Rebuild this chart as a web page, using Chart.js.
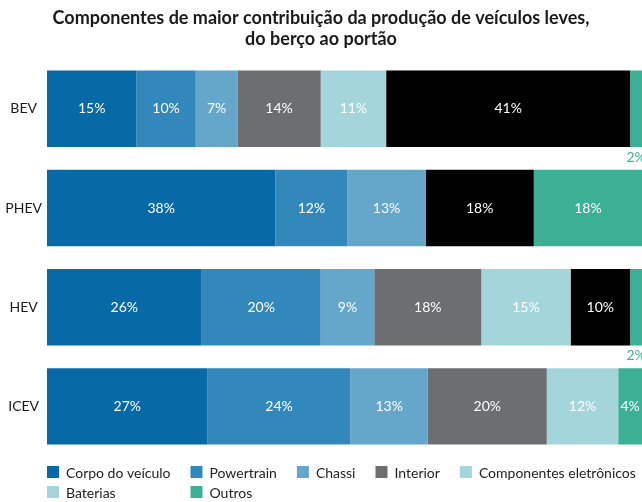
<!DOCTYPE html>
<html lang="pt">
<head>
    <meta charset="UTF-8">
    <title>Componentes de maior contribuição</title>
    <script src="https://cdn.jsdelivr.net/npm/chart.js"></script>
    <style>
        body { margin: 0; background: #fff; }
        #wrap { width: 642px; height: 502px; }
    </style>
</head>
<body>
<div id="wrap"><canvas id="chart" width="642" height="502"></canvas></div>
<script>
    // vehicle types
    const categories = ['BEV', 'PHEV', 'HEV', 'ICEV'];

    // share of each component (%), one array per category order above
    const corpo       = [15, 38, 26, 27];
    const powertrain  = [10, 12, 20, 24];
    const chassi      = [7, 13, 9, 13];
    const interior    = [14, 0, 18, 20];
    const eletronicos = [11, 0, 15, 12];
    const baterias    = [41, 18, 10, 0];
    const outros      = [2, 18, 2, 4];

    const seriesNames = ['Corpo do veículo', 'Powertrain', 'Chassi', 'Interior',
                         'Componentes eletrônicos', 'Baterias', 'Outros'];
    const seriesValues = [corpo, powertrain, chassi, interior, eletronicos, baterias, outros];
    const colors = ['#0769a5', '#3388bb', '#65a7cb', '#6d6e72', '#a4d5db', '#000000', '#3bb095'];
    // the reference legend shows Baterias with the light cyan swatch
    const legendColors = ['#0769a5', '#3388bb', '#65a7cb', '#6d6e72', '#a4d5db', '#a4d5db', '#3bb095'];

    const FONT = 'Lato, "Noto Sans", sans-serif';

    // 100% stacked: each row is scaled to its own total (PHEV adds up to 99)
    const rowTotals = categories.map((c, j) => seriesValues.reduce((s, arr) => s + arr[j], 0));
    const shares = seriesValues.map(arr => arr.map((v, j) => v / rowTotals[j] * 100));

    // value labels: white inside, small ones in green under the bar
    const valueLabels = {
        id: 'valueLabels',
        afterDatasetsDraw(chart) {
            const ctx = chart.ctx;
            ctx.save();
            ctx.font = '14px ' + FONT;
            ctx.textAlign = 'center';
            ctx.textBaseline = 'middle';
            chart.data.datasets.forEach((ds, i) => {
                chart.getDatasetMeta(i).data.forEach((bar, j) => {
                    const v = seriesValues[i][j];
                    if (!v) return;
                    const cx = (bar.x + bar.base) / 2;
                    if (v >= 3) {
                        ctx.fillStyle = '#ffffff';
                        ctx.fillText(v + '%', cx, bar.y);
                    } else {
                        ctx.fillStyle = ds.backgroundColor;
                        ctx.fillText(v + '%', cx, bar.y + bar.height / 2 + 10);
                    }
                });
            });
            ctx.restore();
        }
    };

    // two row legend, second row aligned with first row columns
    const gridLegend = {
        id: 'gridLegend',
        afterDraw(chart) {
            const ctx = chart.ctx;
            ctx.save();
            ctx.font = '14px ' + FONT;
            ctx.textBaseline = 'middle';
            const perRow = 5;
            const box = 12, gap = 7, spacing = 20;
            const rowY = [472, 492];
            const cols = [];
            let x = chart.chartArea.left;
            for (let i = 0; i < perRow; i++) {
                cols.push(x);
                x += box + gap + ctx.measureText(seriesNames[i]).width + spacing;
            }
            seriesNames.forEach((name, i) => {
                const cx = cols[i % perRow];
                const cy = rowY[Math.floor(i / perRow)];
                ctx.fillStyle = legendColors[i];
                ctx.fillRect(cx, cy - box / 2, box, box);
                ctx.fillStyle = '#222222';
                ctx.fillText(name, cx + box + gap, cy + 1);
            });
            ctx.restore();
        }
    };

    new Chart(document.getElementById('chart'), {
        type: 'bar',
        data: {
            labels: categories,
            datasets: seriesNames.map((name, i) => ({
                label: name,
                data: shares[i],
                backgroundColor: colors[i],
                borderWidth: 0,
                barPercentage: 0.77,
                categoryPercentage: 1
            }))
        },
        options: {
            indexAxis: 'y',
            responsive: false,
            animation: false,
            layout: { padding: { top: 0, right: 0, bottom: 46, left: 0 } },
            plugins: {
                legend: { display: false },
                tooltip: { enabled: false },
                title: {
                    display: true,
                    text: ['Componentes de maior contribuição da produção de veículos leves,',
                           'do berço ao portão'],
                    color: '#1a1a1a',
                    font: { family: FONT, size: 18, weight: 'bold', lineHeight: 1.2 },
                    padding: { top: 7, bottom: 9 }
                }
            },
            scales: {
                x: {
                    stacked: true,
                    min: 0,
                    max: 100,
                    display: false
                },
                y: {
                    stacked: true,
                    grid: { display: false, drawTicks: false },
                    border: { display: false },
                    ticks: {
                        color: '#1a1a1a',
                        padding: 5,
                        crossAlign: 'center',
                        font: { family: FONT, size: 14 }
                    },
                    afterFit(scale) { scale.width = 47; }
                }
            }
        },
        plugins: [valueLabels, gridLegend]
    });
</script>
</body>
</html>
